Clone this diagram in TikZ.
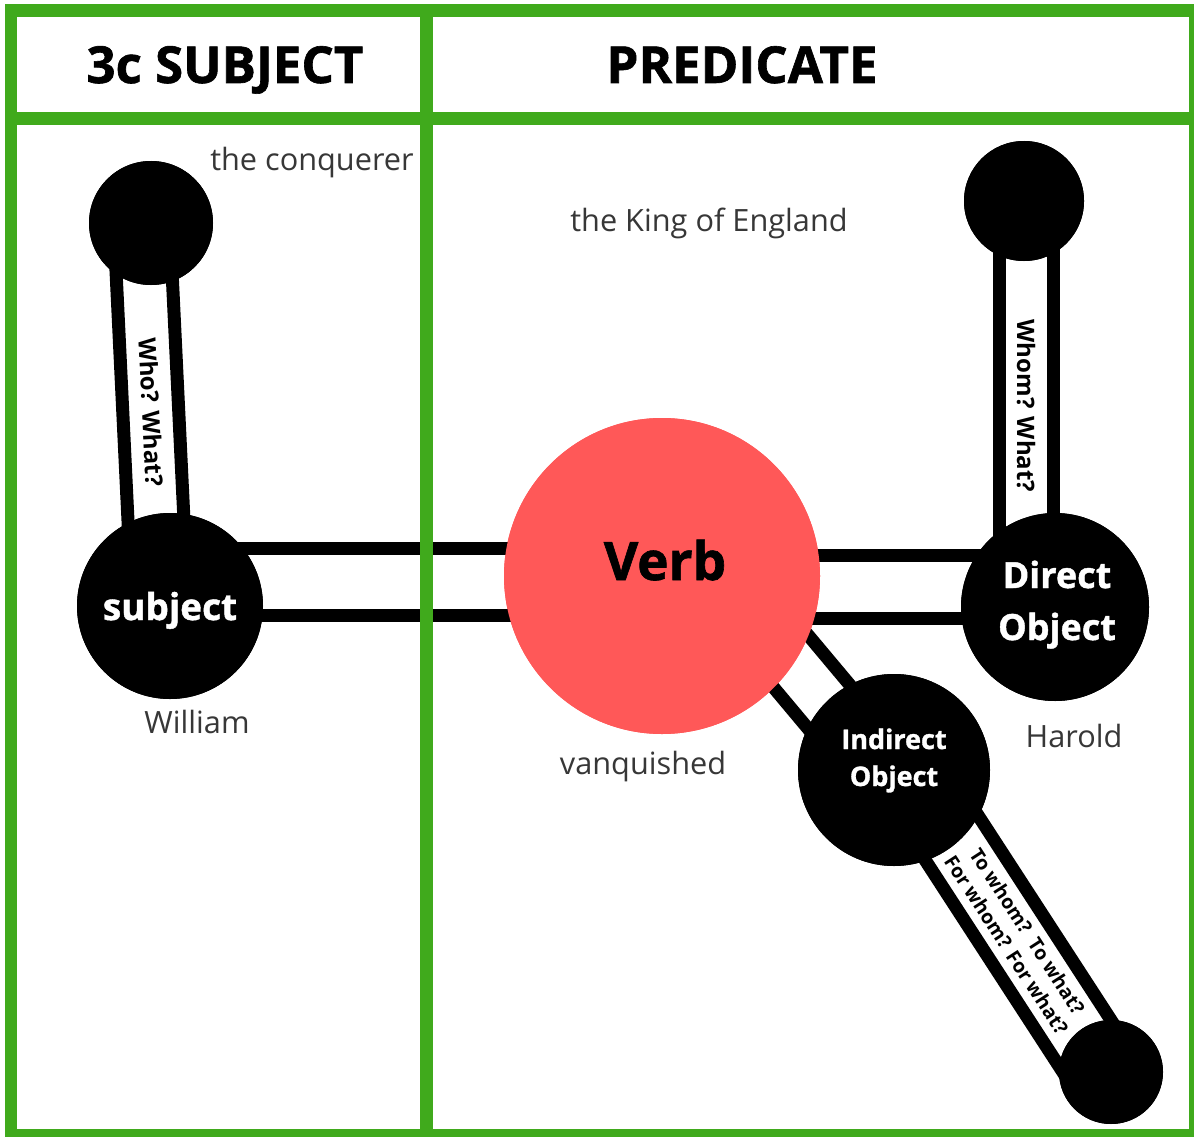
\documentclass[tikz,border=0pt]{standalone}
\usepackage{fontspec}
\setmainfont{Open Sans}
\newfontfamily\heavyfont{Open Sans}[BoldFeatures={FakeBold=1.2}]
\usetikzlibrary{calc}
\definecolor{frameg}{RGB}{64,170,28}
\definecolor{verbred}{RGB}{255,88,88}
\definecolor{lbl}{RGB}{55,55,55}
\begin{document}
\begin{tikzpicture}[x=1pt,y=-1pt,
  dot/.style={circle,fill=black,inner sep=0pt,minimum size=#1},
  bar/.style={line width=13pt},
  frameline/.style={draw=frameg,line width=12.5pt},
  lab/.style={text=lbl,font=\fontsize{30.7}{36}\selectfont,inner sep=0pt},
  head/.style={font=\heavyfont\bfseries\fontsize{51}{56}\selectfont,inner sep=0pt,anchor=base},
  whitelab/.style={text=white,inner sep=0pt,anchor=base},
  sticktext/.style={font=\bfseries\fontsize{24}{28}\selectfont,inner sep=0pt},
]
\useasboundingbox (0,0) rectangle (1194,1137);
\clip (0,0) rectangle (1194,1137);
\fill[white] (0,0) rectangle (1194,1137);

% nodes (circles)
\node[dot=186pt] (subj) at (170,606) {};
\node[dot=124pt] (tl) at (151,223) {};
\node[dot=316pt,fill=verbred] (verb) at (662,576) {};
\node[dot=188pt] (do) at (1055,607) {};
\node[dot=120pt] (tr) at (1024,201) {};
\node[dot=192pt] (io) at (894,770) {};
\node[dot=104pt] (br) at (1111,1072) {};

% connectors
\draw[bar] ($(tl)+(-37.3,0)$) -- ($(subj)+(-37.9,0)$);
\draw[bar] ($(tl)+(18.7,0)$) -- ($(subj)+(18.1,0)$);
\draw[bar] ($(subj)+(0,-57.5)$) -- ($(verb)+(0,-27.5)$);
\draw[bar] ($(subj)+(0,9)$) -- ($(verb)+(0,39)$);
\draw[bar] ($(verb)+(0,-21)$) -- ($(do)+(0,-52)$);
\draw[bar] ($(verb)+(0,42.5)$) -- ($(do)+(0,11.5)$);
\draw[bar] ($(tr)+(-24.5,0)$) -- ($(do)+(-55.5,0)$);
\draw[bar] ($(tr)+(29.5,0)$) -- ($(do)+(-1.5,0)$);
\draw[bar] ($(verb)+(77,-23.3)$) -- ($(io)+(5.6,-25.7)$);
\draw[bar] ($(verb)+(31,15.3)$) -- ($(io)+(-40.4,13)$);
\draw[bar] ($(io)+(38,-25.5)$) -- ($(br)+(23.7,-15.4)$);
\draw[bar] ($(io)+(-19.6,11.9)$) -- ($(br)+(-33.9,22)$);

% circles again on top of the bars
\node[dot=186pt] at (subj) {};
\node[dot=124pt] at (tl) {};
\node[dot=316pt,fill=verbred] at (verb) {};
\node[dot=188pt] at (do) {};
\node[dot=120pt] at (tr) {};
\node[dot=192pt] at (io) {};
\node[dot=104pt] at (br) {};

% texts in circles
\node[whitelab,font=\heavyfont\bfseries\fontsize{37}{44}\selectfont] (subjtxt) at (170,620) {subject};
\node[anchor=base,font=\heavyfont\bfseries\fontsize{53}{60}\selectfont,inner sep=0pt] (verbtxt) at (665,580) {Verb};
\node[whitelab,font=\heavyfont\bfseries\fontsize{36}{50}\selectfont] (dotxt1) at (1057,588) {Direct};
\node[whitelab,font=\heavyfont\bfseries\fontsize{36}{50}\selectfont] (dotxt2) at (1057,640) {Object};
\node[whitelab,font=\heavyfont\bfseries\fontsize{27}{37}\selectfont] (iotxt1) at (894,749) {Indirect};
\node[whitelab,font=\heavyfont\bfseries\fontsize{27}{37}\selectfont] (iotxt2) at (894,786) {Object};

% stick texts
\node[sticktext,rotate=-87.25] (q1) at (151,412) {Who? What?};
\node[sticktext,rotate=-90] (q2) at (1026,406) {Whom? What?};
\node[sticktext,font=\bfseries\fontsize{19.5}{25}\selectfont,align=center,rotate=-57] (q3) at (1017,938) {To whom?\ \ To what?\\For whom? For what?};

% grey labels
\node[lab] (l1) at (312,163) {the conquerer};
\node[lab] (l2) at (709,223) {the King of England};
\node[lab] (l3) at (197,722) {William};
\node[lab] (l4) at (643,767) {vanquished};
\node[lab] (l5) at (1074,736) {Harold};

% headers
\node[head] (h1) at (225,83) {3c SUBJECT};
\node[head] (h2) at (742,83) {PREDICATE};

% frame
\draw[frameline] (11,10.5) rectangle (1195.5,1135);
\draw[frameline] (11,118.5) -- (1195.5,118.5);
\draw[frameline] (426.5,10.5) -- (426.5,1135);
\end{tikzpicture}
\end{document}
